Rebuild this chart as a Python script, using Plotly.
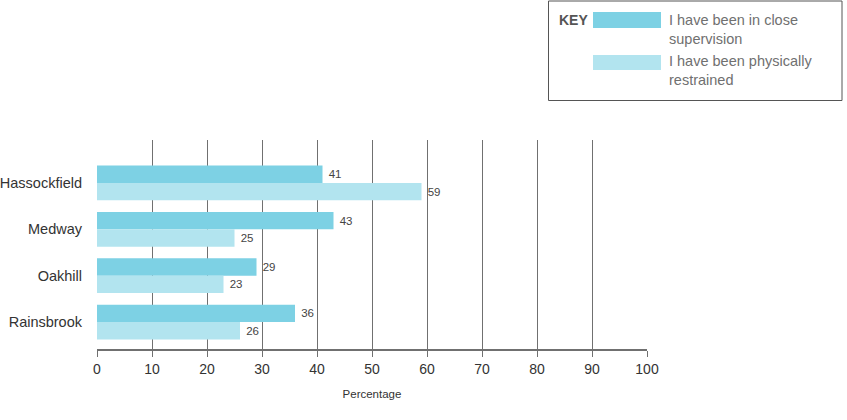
import plotly.graph_objects as go

categories = ["Hassockfield", "Medway", "Oakhill", "Rainsbrook"]
close_supervision = [41, 43, 29, 36]
physically_restrained = [59, 25, 23, 26]
series_names = ["I have been in close supervision", "I have been physically restrained"]
x_ticks = [0, 10, 20, 30, 40, 50, 60, 70, 80, 90, 100]

dark = "#7dd1e4"
light = "#b2e4ef"
cond = "Liberation Sans, Arial, sans-serif"
reg = "Liberation Sans, Arial, sans-serif"

ypos = list(range(len(categories)))

fig = go.Figure()
for vals, col, nm in [(close_supervision, dark, series_names[0]),
                      (physically_restrained, light, series_names[1])]:
    fig.add_trace(go.Bar(
        y=ypos, x=vals, orientation="h", name=nm,
        marker=dict(color=col, line=dict(width=0)),
        text=["\u00a0" + str(v) for v in vals], textposition="outside",
        textfont=dict(family=cond, size=11.5, color="#444444"), cliponaxis=False,
    ))

L, R, T, B = 97, 200, 140, 71
W, H = 847, 420
pw, ph = W - L - R, H - T - B

def px(x):
    return (x - L) / pw

def py(y):
    return (H - B - y) / ph

fig.update_layout(
    width=W, height=H,
    margin=dict(l=L, r=R, t=T, b=B, pad=0, autoexpand=False),
    plot_bgcolor="white", paper_bgcolor="white",
    barmode="group", bargap=0.25, bargroupgap=0,
    showlegend=False,
    xaxis=dict(
        range=[0, 100], tickvals=x_ticks, ticktext=[str(t) for t in x_ticks],
        showgrid=True, gridcolor="#707070", gridwidth=1.3,
        showline=True, linecolor="#707070", linewidth=1.5,
        ticks="outside", ticklen=6, tickcolor="#707070", tickwidth=1.3,
        tickfont=dict(family=cond, size=14, color="#333333"),
        title=dict(text="Percentage", font=dict(family=cond, size=11.5, color="#333333"), standoff=14),
        zeroline=False, fixedrange=True, automargin=False,
    ),
    yaxis=dict(
        range=[3.58, -0.925], tickvals=ypos, ticktext=categories,
        showgrid=False, zeroline=False, showline=False, ticks="",
        ticklabelstandoff=14,
        tickfont=dict(family=cond, size=14.5, color="#333333"),
        fixedrange=True, automargin=False,
    ),
)

# Legend box ("KEY")
fig.add_shape(type="rect", xref="paper", yref="paper",
              x0=px(548.5), x1=px(842), y0=py(100.5), y1=py(1),
              line=dict(color="#555555", width=1), fillcolor="white", layer="above")
fig.add_annotation(xref="paper", yref="paper", x=px(557), y=py(20), text="<b>KEY</b>",
                   showarrow=False, xanchor="left", yanchor="middle",
                   font=dict(family=cond, size=14, color="#555555"))
fig.add_shape(type="rect", xref="paper", yref="paper",
              x0=px(593), x1=px(661), y0=py(28), y1=py(12),
              line=dict(width=0), fillcolor=dark)
fig.add_shape(type="rect", xref="paper", yref="paper",
              x0=px(593), x1=px(661), y0=py(70), y1=py(55),
              line=dict(width=0), fillcolor=light)
fig.add_annotation(xref="paper", yref="paper", x=px(667), y=py(29),
                   text="I have been in close<br>supervision",
                   showarrow=False, xanchor="left", yanchor="middle", align="left",
                   font=dict(family=reg, size=14.5, color="#707070"))
fig.add_annotation(xref="paper", yref="paper", x=px(667), y=py(71),
                   text="I have been physically<br>restrained",
                   showarrow=False, xanchor="left", yanchor="middle", align="left",
                   font=dict(family=reg, size=14.5, color="#707070"))

fig.write_html("out.html")
